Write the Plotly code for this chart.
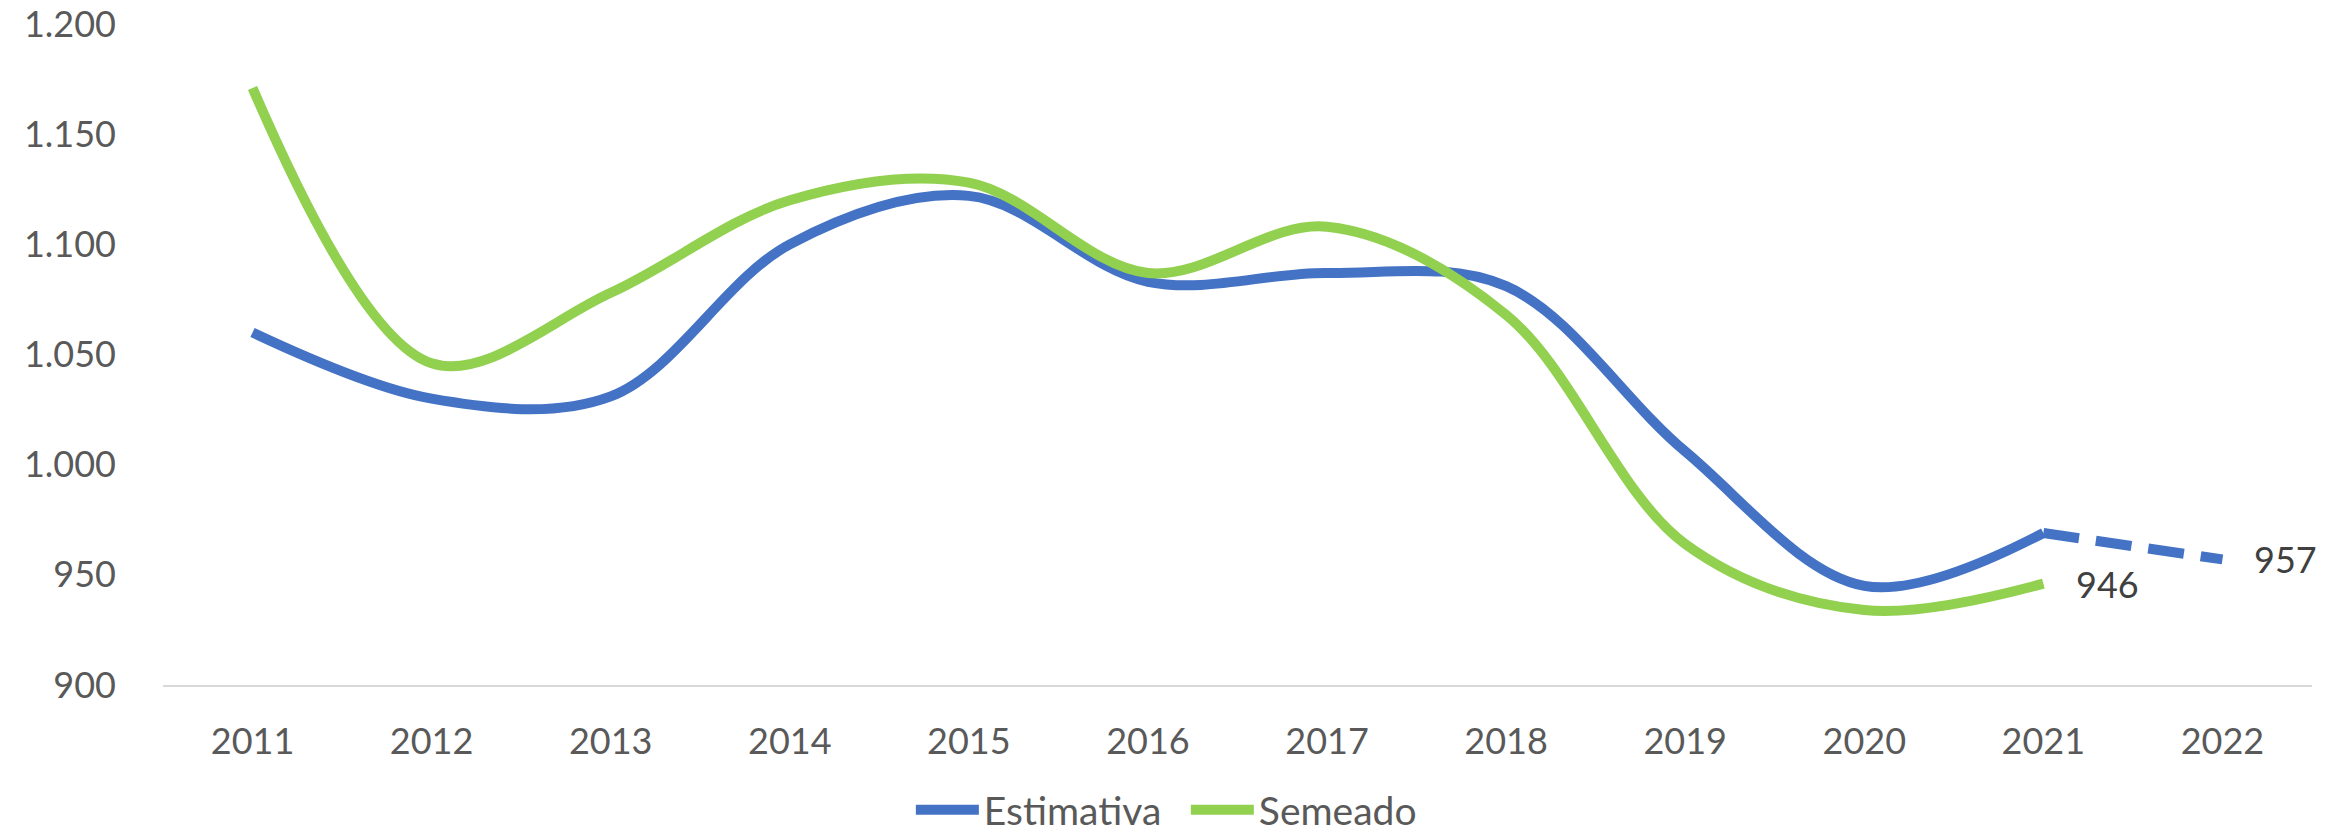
import plotly.graph_objects as go

years = ["2011", "2012", "2013", "2014", "2015", "2016", "2017", "2018", "2019", "2020", "2021", "2022"]
estimativa = [1060, 1030, 1031, 1100, 1122, 1083, 1087, 1081, 1006, 945, 969, 957]
semeado = [1171, 1046, 1078, 1120, 1128, 1087, 1108, 1068, 964, 934, 946]

BLUE = "#4472C4"
GREEN = "#92D050"
FONT = "Lato"

fig = go.Figure()

# Estimativa solid part (2011-2021)
fig.add_trace(go.Scatter(
    x=years[:11], y=estimativa[:11], name="Estimativa", mode="lines",
    line=dict(color=BLUE, width=10, shape="spline", smoothing=1.0),
))
# Estimativa dashed projection (2021-2022)
fig.add_trace(go.Scatter(
    x=years[10:], y=estimativa[10:], name="Estimativa", mode="lines",
    line=dict(color=BLUE, width=10, dash="36px,17px"), showlegend=False,
))
# Semeado
fig.add_trace(go.Scatter(
    x=years[:len(semeado)], y=semeado, name="Semeado", mode="lines",
    line=dict(color=GREEN, width=10, shape="spline", smoothing=1.0),
))

# data labels (category axis -> use category index)
last_sem = len(semeado) - 1
fig.add_annotation(x=last_sem, y=semeado[-1], text=str(semeado[-1]),
                   showarrow=False, xanchor="left", yanchor="middle", xshift=31, yshift=0,
                   font=dict(family=FONT, size=36, color="#404040"))
fig.add_annotation(x=len(years) - 1, y=estimativa[-1], text=str(estimativa[-1]),
                   showarrow=False, xanchor="left", yanchor="middle", xshift=30, yshift=0,
                   font=dict(family=FONT, size=36, color="#404040"))

fig.update_layout(
    width=2346, height=834,
    margin=dict(l=163, r=34, t=24, b=149, autoexpand=False),
    paper_bgcolor="white", plot_bgcolor="white",
    separators=",.",
    font=dict(family=FONT, size=36, color="#595959"),
    showlegend=True,
    legend=dict(orientation="h", x=0.348, xanchor="left", y=-0.1891, yanchor="middle",
                font=dict(family=FONT, size=39, color="#595959"),
                bgcolor="rgba(0,0,0,0)", itemwidth=63, entrywidth=197, entrywidthmode="pixels",
                tracegroupgap=0),
    xaxis=dict(type="category", range=[-0.5, 11.5], showgrid=False, zeroline=False,
               showline=True, linecolor="#D9D9D9", linewidth=2, ticks="", automargin=False,
               tickfont=dict(family=FONT, size=36, color="#595959"), ticklabelstandoff=24),
    yaxis=dict(range=[900, 1200], dtick=50, tickformat=",d", showgrid=False, zeroline=False,
               showline=False, ticks="", automargin=False,
               tickfont=dict(family=FONT, size=36, color="#595959"), ticklabelstandoff=46),
)

fig.write_html("out.html", config={"displayModeBar": False},
               post_script="document.body.style.margin='0';document.body.style.padding='0';")
